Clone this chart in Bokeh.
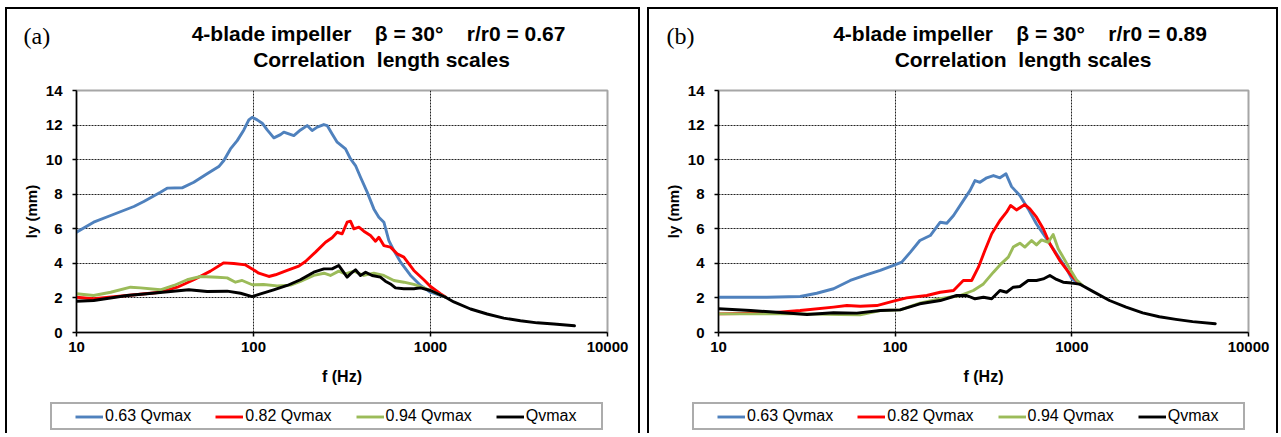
from bokeh.plotting import figure
from bokeh.layouts import row, column
from bokeh.models import FixedTicker, Label, Legend, LegendItem, Range1d, Plot, Row
from bokeh.embed import file_html
from bokeh.resources import INLINE

SANS = "Liberation Sans"
SERIF = "Liberation Serif"

SERIES_NAMES = ["0.63 Qvmax", "0.82 Qvmax", "0.94 Qvmax", "Qvmax"]
SERIES_COLORS = ["#4F81BD", "#FF0000", "#9BBB59", "#000000"]

X_TICKS = [10, 100, 1000, 10000]
X_TICK_LABELS = ["10", "100", "1000", "10000"]
Y_TICKS = [0, 2, 4, 6, 8, 10, 12, 14]
Y_GRID = [2, 4, 6, 8, 10, 12]
X_GRID = [100, 1000]

# ---------------- panel (a): r/r0 = 0.67 ----------------
A_BLUE_F = [10, 12.5, 15.6, 21.1, 24.0, 29.8, 32.5, 39.5, 46.0, 54.7, 63.7, 68.0, 74.1, 80.9,
            88.2, 94.1, 98.3, 104.9, 112.0, 119.5, 130.3, 142.1, 148.4, 169.0, 184.4, 201.0,
            214.4, 229.0, 249.6, 260.7, 278.2, 297.0, 331.0, 353.3, 376.9, 402.4, 438.8,
            478.4, 510.7, 545.2, 581.9, 621.3, 677.5, 771.5, 879.0, 1000, 1216]
A_BLUE_LY = [5.80, 6.38, 6.77, 7.29, 7.58, 8.12, 8.35, 8.37, 8.69, 9.18, 9.60, 9.95, 10.62, 11.10,
             11.72, 12.30, 12.45, 12.30, 12.11, 11.72, 11.26, 11.45, 11.59, 11.39, 11.72, 11.97,
             11.68, 11.88, 12.03, 11.97, 11.49, 11.01, 10.62, 10.04, 9.66, 8.98, 8.12,
             7.15, 6.67, 6.38, 5.32, 4.74, 4.07, 3.30, 2.72, 2.33, 2.04]

A_RED_F = [10, 12.5, 19.3, 29.8, 37.1, 46, 57.1, 68, 77.4, 90.2, 98.3, 107.1, 122.1, 133.1, 155,
           180.3, 196.6, 224, 255.2, 278, 297, 317, 338, 353, 369, 394, 420, 458, 489, 511, 545,
           594, 648, 707, 805, 917, 1000, 1138, 1216]
A_RED_LY = [2.04, 1.95, 2.14, 2.33, 2.62, 3.05, 3.55, 4.03, 3.99, 3.91, 3.68, 3.43, 3.24, 3.34, 3.59,
            3.84, 4.11, 4.65, 5.22, 5.48, 5.80, 5.71, 6.38, 6.44, 6.00, 6.09, 5.86, 5.61, 5.28, 5.51, 5.03,
            4.94, 4.55, 4.36, 3.59, 3.05, 2.66, 2.24, 2.06]

A_GREEN_F = [10, 12.5, 15.6, 20.2, 23, 29.8, 35.5, 42.2, 50.2, 62.4, 71, 79.1, 86.3, 98.3, 114, 136,
             162, 184, 219, 250, 272, 303, 331, 369, 420, 478, 545, 621, 707, 805, 917, 1000, 1216]
A_GREEN_LY = [2.24, 2.14, 2.33, 2.62, 2.58, 2.47, 2.72, 3.05, 3.24, 3.20, 3.16, 2.91, 3.01, 2.76, 2.78, 2.70,
              2.74, 2.95, 3.30, 3.43, 3.30, 3.55, 3.39, 3.55, 3.30, 3.43, 3.30, 3.01, 2.91, 2.78, 2.58, 2.43, 2.04]

A_BLACK_F = [10, 12.5, 19.3, 25, 34, 43.1, 54.7, 71, 84.5, 98.3, 109.6, 130, 155, 184, 219, 250, 278,
             303, 338, 353, 377, 402, 430, 468, 521, 556, 594, 634, 707, 805, 879, 1000, 1216, 1355,
             1683, 2089, 2593, 3222, 4006, 4976, 6510]
A_BLACK_LY = [1.81, 1.85, 2.14, 2.24, 2.37, 2.47, 2.37, 2.39, 2.27, 2.08, 2.24, 2.47, 2.72, 3.05, 3.49, 3.68, 3.68,
              3.88, 3.20, 3.39, 3.63, 3.30, 3.49, 3.30, 3.20, 2.97, 2.81, 2.58, 2.53, 2.53, 2.58, 2.43, 2.04, 1.77,
              1.36, 1.07, 0.83, 0.68, 0.56, 0.49, 0.39]

# ---------------- panel (b): r/r0 = 0.89 ----------------
B_BLUE_F = [10, 18.8, 29.0, 36.0, 44.8, 55.7, 69.2, 82.3, 97.9, 109, 122, 138, 158, 180, 196, 214, 243,
            265, 283, 302, 330, 360, 392, 424, 456, 508, 566, 631, 719, 819, 933, 1000, 1105]
B_BLUE_LY = [2.04, 2.04, 2.08, 2.27, 2.53, 3.01, 3.35, 3.59, 3.88, 4.07, 4.65, 5.32, 5.61, 6.38, 6.32, 6.77, 7.63,
             8.21, 8.79, 8.69, 8.95, 9.08, 8.95, 9.18, 8.44, 7.92, 7.15, 6.28, 5.42, 4.55, 3.68, 3.10, 2.80]

B_RED_F = [10, 18.8, 29, 44.8, 53.3, 63.4, 78.7, 97.9, 116, 151, 180, 214, 243, 271, 296, 322, 352, 392,
           427, 450, 486, 542, 579, 631, 689, 751, 855, 975, 1062, 1105]
B_RED_LY = [1.08, 1.12, 1.27, 1.47, 1.56, 1.52, 1.56, 1.81, 2.00, 2.14, 2.33, 2.43, 3.01, 3.01, 3.78, 4.74, 5.71, 6.48,
            6.96, 7.35, 7.09, 7.40, 7.15, 6.67, 6.00, 5.13, 4.16, 3.39, 3.01, 2.82]

B_GREEN_F = [10, 29, 48.9, 63.4, 82.3, 106.6, 138, 180, 233, 277, 316, 360, 392, 437, 466, 508, 542, 592,
             631, 674, 735, 784, 837, 893, 975, 1062, 1150]
B_GREEN_LY = [1.08, 1.08, 1.04, 1.02, 1.27, 1.31, 1.70, 1.95, 2.14, 2.43, 2.81, 3.49, 3.91, 4.36, 4.94, 5.17, 4.94, 5.32,
              5.07, 5.36, 5.22, 5.67, 4.84, 4.36, 3.68, 3.05, 2.72]

B_BLACK_F = [10, 15.2, 23.4, 31.7, 44.8, 60.7, 82.3, 106.6, 138, 180, 223, 254, 283, 316, 352, 392, 427, 466,
             508, 566, 631, 689, 751, 819, 893, 1000, 1105, 1314, 1634, 2028, 2518, 3128, 3883, 4826, 6486]
B_BLACK_LY = [1.37, 1.27, 1.14, 1.04, 1.14, 1.12, 1.27, 1.31, 1.66, 1.85, 2.14, 2.14, 1.95, 2.04, 1.95, 2.43, 2.33, 2.62,
              2.66, 3.01, 3.01, 3.10, 3.30, 3.07, 2.91, 2.86, 2.80, 2.38, 1.85, 1.47, 1.14, 0.91, 0.76, 0.63, 0.51]

PANELS = [
    dict(tag="(a)", ratio="0.67",
         series=[(A_BLUE_F, A_BLUE_LY), (A_RED_F, A_RED_LY), (A_GREEN_F, A_GREEN_LY), (A_BLACK_F, A_BLACK_LY)],
         width=631, left=69, right=31, tag_x=16, t1_x=371, t2_x=374, leg_x=43, leg_x_plain=62),
    dict(tag="(b)", ratio="0.89",
         series=[(B_BLUE_F, B_BLUE_LY), (B_RED_F, B_RED_LY), (B_GREEN_F, B_GREEN_LY), (B_BLACK_F, B_BLACK_LY)],
         width=627, left=69, right=28, tag_x=17, t1_x=370.5, t2_x=373.5, leg_x=43, leg_x_plain=62),
]

HEAD_H = 65
MAIN_H = 318
FOOT_H = 41
TOP = 16
NB = "\u00a0"
BORDER = {"border-left": "2px solid black", "border-top": "2px solid black",
          "border-right": "2px solid black"}
HAS_ALIGN = "frame_align" in Plot.properties()
HAS_TLOC = "title_location" in Legend.properties()
HAS_MARGIN = "margin" in Row.properties()


def base_fig(**kw):
    if HAS_ALIGN:
        kw["frame_align"] = False
    f = figure(output_backend="svg", toolbar_location=None, title=None, **kw)
    f.background_fill_color = "white"
    f.border_fill_color = "white"
    return f


def blank_fig(w, h):
    f = base_fig(width=w, height=h, x_range=Range1d(-2, -1), y_range=Range1d(-2, -1),
                 x_axis_location=None, y_axis_location=None, min_border=0,
                 min_border_left=0, min_border_right=0, min_border_top=0, min_border_bottom=0)
    f.grid.visible = False
    f.outline_line_color = None
    return f


def make_header(cfg):
    h = blank_fig(cfg["width"], HEAD_H)

    def lab(text, x, y, size, style="bold", font=SANS, align="center"):
        h.add_layout(Label(x=x, y=y, x_units="canvas", y_units="canvas", text=text,
                           text_font=font, text_font_size=size,
                           text_font_style=style, text_align=align,
                           text_baseline="alphabetic", text_color="black"))

    lab(cfg["tag"], cfg["tag_x"], 26, "24px", style="normal", font=SERIF, align="left")
    lab("4-blade impeller" + NB * 4 + "\u03b2 = 30\u00b0" + NB * 4 + "r/r0 = " + cfg["ratio"],
        cfg["t1_x"], 24, "21px")
    lab("Correlation" + NB * 2 + "length scales", cfg["t2_x"], 50, "21px")
    return h


def make_main(cfg):
    p = base_fig(width=cfg["width"], height=MAIN_H, x_axis_type="log",
                 x_range=Range1d(10, 10000), y_range=Range1d(0, 14),
                 min_border_left=cfg["left"], min_border_right=cfg["right"],
                 min_border_top=TOP, min_border_bottom=MAIN_H - TOP - 242)
    p.outline_line_color = "#a6a6a6"
    p.outline_line_width = 2

    for ax in (p.xaxis[0], p.yaxis[0]):
        ax.axis_line_color = "black"
        ax.axis_line_width = 1.5
        ax.major_tick_line_color = "black"
        ax.major_tick_line_width = 1.5
        ax.major_tick_in = 0
        ax.major_tick_out = 4
        ax.minor_tick_line_color = None
        ax.major_label_text_font = SANS
        ax.major_label_text_font_style = "bold"
        ax.major_label_text_font_size = "15px"
        ax.major_label_text_color = "black"
        ax.axis_label_text_font = SANS
        ax.axis_label_text_font_style = "bold"
        ax.axis_label_text_color = "black"
    xa, ya = p.xaxis[0], p.yaxis[0]
    xa.ticker = FixedTicker(ticks=X_TICKS)
    xa.major_label_overrides = {t: s for t, s in zip(X_TICKS, X_TICK_LABELS)}
    xa.major_label_standoff = 5
    xa.axis_label = "f (Hz)"
    xa.axis_label_text_font_size = "16px"
    xa.axis_label_standoff = 13
    ya.ticker = FixedTicker(ticks=Y_TICKS)
    ya.major_label_standoff = 10
    ya.axis_label = "ly (mm)"
    ya.axis_label_text_font_size = "15px"
    ya.axis_label_standoff = 3

    p.xgrid[0].ticker = FixedTicker(ticks=X_GRID)
    p.ygrid[0].ticker = FixedTicker(ticks=Y_GRID)
    for g in (p.xgrid[0], p.ygrid[0]):
        g.grid_line_color = "#222222"
        g.grid_line_width = 1
        g.grid_line_dash = "2 1"

    for (fx, ly), col in zip(cfg["series"], SERIES_COLORS):
        p.line(fx, ly, line_color=col, line_width=2.9, line_join="round", line_cap="round")
    return p


def make_footer(cfg):
    # legend-only strip; its lines use the series data but sit outside this strip's ranges
    f = blank_fig(cfg["width"], FOOT_H)
    items = []
    for (fx, ly), name, col in zip(cfg["series"], SERIES_NAMES, SERIES_COLORS):
        r = f.line(fx, ly, line_color=col, line_width=2.9)
        items.append(LegendItem(label=name, renderers=[r]))
    kw = dict(items=items, orientation="horizontal", location=(cfg["leg_x_plain"], 3),
              padding=3, spacing=24, margin=0, glyph_width=28, glyph_height=17,
              label_height=17, label_width=72, label_standoff=2, label_text_font=SANS,
              label_text_font_size="16px", label_text_color="black",
              border_line_color="#595959", border_line_width=2,
              background_fill_color="white", background_fill_alpha=1)
    if HAS_TLOC:
        kw.update(title=NB, title_location="left", title_standoff=2,
                  title_text_font_size="16px", location=(cfg["leg_x"], 3))
    f.add_layout(Legend(**kw))
    return f


panels = [column(make_header(c), make_main(c), make_footer(c), spacing=0, styles=BORDER)
          for c in PANELS]
row_kw = dict(spacing=7)
if HAS_MARGIN:
    row_kw["margin"] = (7, 0, 0, 5)
layout = row(*panels, **row_kw)
open("out.html", "w").write(file_html(layout, INLINE))
